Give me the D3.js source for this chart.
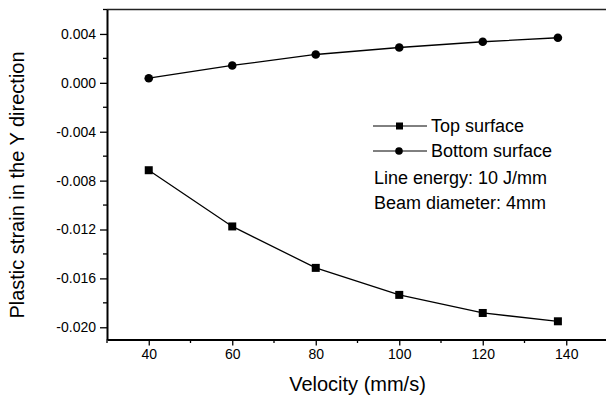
<!DOCTYPE html>
<html>
<head>
<meta charset="utf-8">
<script src="https://cdn.jsdelivr.net/npm/d3@7"></script>
<style>
  body { margin: 0; background: #fff; }
  svg { display: block; font-family: "Liberation Sans", Arial, sans-serif; }
</style>
</head>
<body>
<svg id="chart"></svg>
<script>
// data
const velocity = [40, 60, 80, 100, 120, 138];
const topSurface = [-0.00715, -0.01175, -0.01514, -0.01735, -0.01883, -0.01951];
const bottomSurface = [0.00038, 0.00142, 0.00232, 0.00289, 0.00336, 0.00369];

const xTicks = [40, 60, 80, 100, 120, 140];
const xMinor = [30, 50, 70, 90, 110, 130, 150];
const yTicks = [0.004, 0.000, -0.004, -0.008, -0.012, -0.016, -0.020];
const yMinor = [0.006, 0.002, -0.002, -0.006, -0.010, -0.014, -0.018];

const legendNames = ["Top surface", "Bottom surface"];
const notes = ["Line energy: 10 J/mm", "Beam diameter: 4mm"];

const width = 606, height = 398;
const plotLeft = 107, plotRight = 608, plotTop = 9.5, plotBottom = 339.5;

const svg = d3.select("#chart").attr("width", width).attr("height", height);

const x = d3.scaleLinear().domain([30, 150]).range([plotLeft, plotRight]);
const y = d3.scaleLinear().domain([-0.021, 0.006]).range([plotBottom, plotTop]);

// top frame line
svg.append("line")
  .attr("x1", plotLeft).attr("x2", plotRight)
  .attr("y1", plotTop).attr("y2", plotTop)
  .attr("stroke", "#222").attr("stroke-width", 1.5);

// x axis
const xAxis = svg.append("g").attr("transform", `translate(0,${plotBottom})`);
xAxis.call(d3.axisBottom(x).tickValues(xTicks).tickSize(6).tickSizeOuter(0).tickPadding(4));
xAxis.append("g").selectAll("line").data(xMinor).join("line")
  .attr("x1", d => x(d)).attr("x2", d => x(d))
  .attr("y1", 0).attr("y2", 3.5).attr("stroke", "#000").attr("stroke-width", 1.3);

// y axis
const yAxis = svg.append("g").attr("transform", `translate(${plotLeft},0)`);
yAxis.call(d3.axisLeft(y).tickValues(yTicks).tickFormat(d3.format(".3f")).tickSize(7).tickSizeOuter(0).tickPadding(4));
yAxis.append("g").selectAll("line").data(yMinor).join("line")
  .attr("x1", 0).attr("x2", -4)
  .attr("y1", d => y(d)).attr("y2", d => y(d))
  .attr("stroke", "#000").attr("stroke-width", 1.3);

svg.selectAll(".domain").attr("stroke", "#000").attr("stroke-width", 2);
svg.selectAll(".tick line").attr("stroke", "#000").attr("stroke-width", 1.3);
svg.selectAll(".tick text").attr("font-size", 14).attr("fill", "#000")
  .attr("font-family", "Liberation Sans, Arial, sans-serif")
  .text(function (d) { return d3.select(this).text().replace("−", "-"); });

// axis titles
svg.append("text")
  .attr("x", (plotLeft + plotRight) / 2).attr("y", 391)
  .attr("text-anchor", "middle").attr("font-size", 20)
  .text("Velocity (mm/s)");

svg.append("text")
  .attr("transform", "translate(24,185) rotate(-90)")
  .attr("text-anchor", "middle").attr("font-size", 20)
  .text("Plastic strain in the Y direction");

// series
const line = d3.line().x(d => x(d[0])).y(d => y(d[1]));
const topData = velocity.map((v, i) => [v, topSurface[i]]);
const botData = velocity.map((v, i) => [v, bottomSurface[i]]);

svg.append("path").datum(topData)
  .attr("fill", "none").attr("stroke", "#000").attr("stroke-width", 1.3).attr("d", line);
svg.append("path").datum(botData)
  .attr("fill", "none").attr("stroke", "#000").attr("stroke-width", 1.3).attr("d", line);

svg.selectAll(".sq").data(topData).join("rect")
  .attr("x", d => x(d[0]) - 4).attr("y", d => y(d[1]) - 4)
  .attr("width", 8).attr("height", 8).attr("fill", "#000");
svg.selectAll(".dot").data(botData).join("circle")
  .attr("cx", d => x(d[0])).attr("cy", d => y(d[1])).attr("r", 4.3).attr("fill", "#000");

// legend
const leg = svg.append("g");
const rows = [126, 151];
legendNames.forEach((name, i) => {
  leg.append("line").attr("x1", 373).attr("x2", 427)
    .attr("y1", rows[i]).attr("y2", rows[i]).attr("stroke", "#000").attr("stroke-width", 1);
  if (i === 0) {
    leg.append("rect").attr("x", 396).attr("y", rows[i] - 3.5).attr("width", 7).attr("height", 7).attr("fill", "#000");
  } else {
    leg.append("circle").attr("cx", 399).attr("cy", rows[i]).attr("r", 3.8).attr("fill", "#000");
  }
  leg.append("text").attr("x", 431).attr("y", rows[i] + 6).attr("font-size", 18).text(name);
});
notes.forEach((t, i) => {
  leg.append("text").attr("x", 374).attr("y", 184 + i * 25).attr("font-size", 18).text(t);
});
</script>
</body>
</html>
